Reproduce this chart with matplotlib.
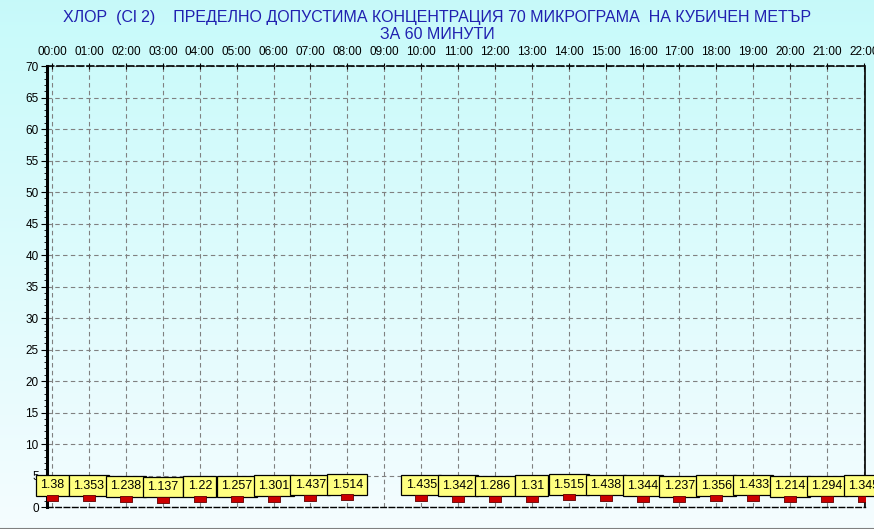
import numpy as np
import matplotlib

matplotlib.use("Agg")
import matplotlib.pyplot as plt
from matplotlib.ticker import MultipleLocator

# ── данни ────────────────────────────────────────────────────────────────────
hours = [0, 1, 2, 3, 4, 5, 6, 7, 8, 10, 11, 12, 13, 14, 15, 16, 17, 18, 19, 20, 21, 22]
values = [1.38, 1.353, 1.238, 1.137, 1.22, 1.257, 1.301, 1.437, 1.514,
          1.435, 1.342, 1.286, 1.31, 1.515, 1.438, 1.344, 1.237, 1.356, 1.433, 1.214, 1.294, 1.345]
labels = ["1.38", "1.353", "1.238", "1.137", "1.22", "1.257", "1.301", "1.437", "1.514",
          "1.435", "1.342", "1.286", "1.31", "1.515", "1.438", "1.344", "1.237", "1.356", "1.433", "1.214", "1.294", "1.345"]
hour_ticks = list(range(23))
hour_labels = [f"{h:02d}:00" for h in hour_ticks]
title = "ХЛОР  (Cl 2)    ПРЕДЕЛНО ДОПУСТИМА КОНЦЕНТРАЦИЯ 70 МИКРОГРАМА  НА КУБИЧЕН МЕТЪР\nЗА 60 МИНУТИ"

plt.rcParams["font.family"] = ["Liberation Sans", "DejaVu Sans"]

W, H = 874, 529
fig = plt.figure(figsize=(W / 100, H / 100), dpi=100)

# фон — градиент от светло синьо към бяло
bg = fig.add_axes([0, 0, 1, 1], zorder=-10)
top = np.array([0.78, 0.98, 0.98])
bot = np.array([0.96, 0.99, 1.0])
t = np.linspace(0, 1, 256)[:, None]
grad = (top * (1 - t) + bot * t)[:, None, :]
bg.imshow(grad, aspect="auto", extent=[0, 1, 0, 1])
bg.plot([0, 1], [0.5 / H, 0.5 / H], color="#808080", linewidth=1.5)
bg.set_xlim(0, 1)
bg.set_ylim(0, 1)
bg.set_axis_off()

left, right, top_px, bottom_px = 47, 865, 66, 507
ax = fig.add_axes([left / W, 1 - bottom_px / H, (right - left) / W, (bottom_px - top_px) / H])
ax.patch.set_alpha(0)

ax.set_xlim(-0.14, 22.03)
ax.set_ylim(0, 70)

ax.xaxis.tick_top()
ax.set_xticks(hour_ticks)
ax.set_xticklabels(hour_labels, fontsize=8.5)
ax.yaxis.set_major_locator(MultipleLocator(5))
ax.yaxis.set_minor_locator(MultipleLocator(1))
ax.tick_params(axis="y", labelsize=8.5, length=4, pad=2)
ax.tick_params(axis="y", which="minor", length=2)
ax.tick_params(axis="x", length=4, direction="inout", pad=4)
ax.grid(True, color="#808080", linestyle=(0, (4, 3)), linewidth=0.8)

ax.spines["left"].set_linewidth(2.2)
ax.spines["right"].set_linewidth(1.2)
ax.spines["top"].set_linestyle((0, (4, 2)))
ax.spines["top"].set_linewidth(1.2)
ax.spines["bottom"].set_linestyle((0, (4, 2)))
ax.spines["bottom"].set_linewidth(1.0)

rect = [(-1, -0.55), (1, -0.55), (1, 0.55), (-1, 0.55), (-1, -0.55)]
ax.plot(hours, values, linestyle="none", marker=rect, markersize=8,
        markerfacecolor="#CC0000", markeredgecolor="#600000", markeredgewidth=0.6, zorder=6)

for h, v, s in zip(hours, values, labels):
    ax.annotate(s, (h, v), xytext=(0, 5), textcoords="offset points",
                ha="center", va="bottom", fontsize=9, zorder=5, annotation_clip=False,
                bbox=dict(boxstyle="square,pad=0.35", facecolor="#FFFF80", edgecolor="black", linewidth=0.9))

fig.text(0.5, 1 - 10 / H, title, ha="center", va="top", fontsize=11.5,
         color="#2020B0", linespacing=1.15)

fig.savefig("out.png", dpi=100)
